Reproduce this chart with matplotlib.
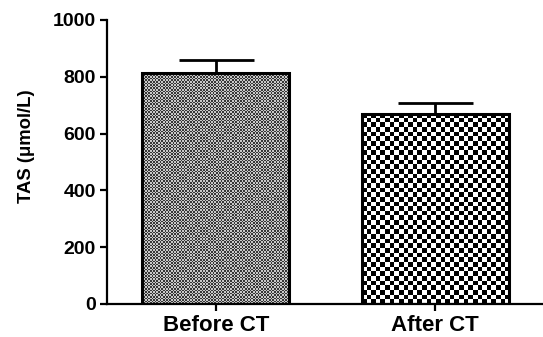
import numpy as np
import matplotlib
matplotlib.use("Agg")
from matplotlib import pyplot as plt
from matplotlib.colors import ListedColormap

# data
groups = ["Before CT", "After CT"]
means = [813, 669]
errors = [47, 37]
yticks = [0, 200, 400, 600, 800, 1000]

plt.rcParams['font.family'] = ['Liberation Sans', 'DejaVu Sans']
plt.rcParams['font.weight'] = 'bold'

fig = plt.figure(figsize=(5.43, 3.37), dpi=100)
ax = fig.add_axes([0.197, 0.098, 0.803, 0.843])

x = np.arange(len(groups))
width = 0.67
ax.set_xlim(-0.495, 1.49)
ax.set_ylim(0, 1000)

bars = ax.bar(x, means, width=width, facecolor='none', edgecolor='black',
              linewidth=2.2, zorder=3)

# checkerboard fills, clipped to each bar
patterns = [(1.6, '#363636', '#c8c8c8'), (4.6, '#000000', '#ffffff')]
for bar, (cell, c1, c2) in zip(bars, patterns):
    x0, y0 = bar.get_x(), bar.get_y()
    x1, y1 = x0 + bar.get_width(), y0 + bar.get_height()
    p0 = ax.transData.transform((x0, y0))
    p1 = ax.transData.transform((x1, y1))
    nx = max(1, int(round((p1[0] - p0[0]) / cell)))
    ny = max(1, int(round((p1[1] - p0[1]) / cell)))
    board = (np.add.outer(np.arange(ny), np.arange(nx)) % 2).astype(float)
    im = ax.imshow(board, cmap=ListedColormap([c1, c2]), extent=(x0, x1, y0, y1),
                   interpolation='nearest', aspect='auto', zorder=2)
    im.set_clip_path(bar)

ax.errorbar(x, means, yerr=[np.zeros(len(errors)), errors], fmt='none',
            ecolor='black', elinewidth=2, capsize=27, capthick=2, zorder=4)

for side in ['top', 'right']:
    ax.spines[side].set_visible(False)
for side in ['left', 'bottom']:
    ax.spines[side].set_linewidth(1.6)

ax.set_yticks(yticks)
ax.set_xticks(x)
ax.set_xticklabels(groups, fontsize=16, fontweight='bold')
ax.tick_params(axis='both', width=1.6, length=5)
ax.tick_params(axis='y', labelsize=14, pad=3)
ax.tick_params(axis='x', pad=3)
ax.set_ylabel("TAS (μmol/L)", fontsize=13.3, fontweight='bold')
ax.yaxis.set_label_coords(-0.165, 0.556)

fig.savefig("out.png", dpi=100)
